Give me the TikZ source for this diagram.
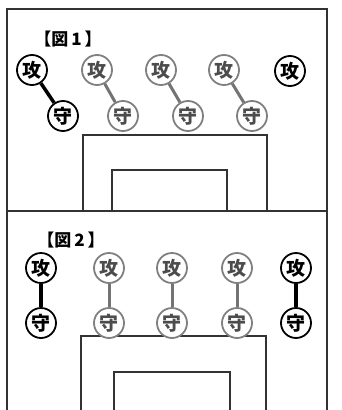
\documentclass[tikz,border=0pt]{standalone}
\usepackage{fontspec}
\newfontfamily\jp{Noto Sans CJK JP}
\begin{document}
\begin{tikzpicture}[x=1pt,y=-1pt,
  frame/.style={line width=1.8pt,draw=black!80},
  piece/.style={circle,draw=black,line width=1.8pt,minimum size=30pt,inner sep=0pt,font=\jp\bfseries\fontsize{19}{19}\selectfont,fill=white},
  gpiece/.style={piece,draw=black!50,text=black!70},
  link/.style={line width=3.5pt,black},
  glink/.style={line width=3pt,black!55},
  lbl/.style={font=\jp\bfseries\fontsize{17}{17}\selectfont,inner sep=0pt}]
\useasboundingbox (0,0) rectangle (341,410);
% frames
\draw[frame] (7,410) -- (7,9) -- (327,9) -- (327,410);
\draw[frame] (7,211) -- (327,211);
\draw[frame] (83,211) -- (83,135) -- (267,135) -- (267,211);
\draw[frame] (112,211) -- (112,170) -- (227,170) -- (227,211);
\draw[frame] (81,410) -- (81,336) -- (266,336) -- (266,410);
\draw[frame] (114,410) -- (114,372) -- (230,372) -- (230,410);
% labels
\node[lbl] (l1) at (68,39) {【図\,1\,】};
\node[lbl] (l2) at (71,240) {【図\,2\,】};
% figure 1
\node[piece] (a1) at (32,70) {攻};
\node[piece] (b1) at (63,116) {守};
\node[gpiece] (a2) at (97,70) {攻};
\node[gpiece] (b2) at (123,116) {守};
\node[gpiece] (a3) at (161,70) {攻};
\node[gpiece] (b3) at (188,116) {守};
\node[gpiece] (a4) at (224,70) {攻};
\node[gpiece] (b4) at (252,116) {守};
\node[piece] (a5) at (290,71) {攻};
\draw[link] (a1) -- (b1);
\draw[glink] (a2) -- (b2);
\draw[glink] (a3) -- (b3);
\draw[glink] (a4) -- (b4);
% figure 2
\node[piece] (c1) at (41,268) {攻};
\node[piece] (d1) at (41,323) {守};
\node[gpiece] (c2) at (109,268) {攻};
\node[gpiece] (d2) at (109,323) {守};
\node[gpiece] (c3) at (172,268) {攻};
\node[gpiece] (d3) at (172,323) {守};
\node[gpiece] (c4) at (237,268) {攻};
\node[gpiece] (d4) at (237,323) {守};
\node[piece] (c5) at (296,268) {攻};
\node[piece] (d5) at (296,323) {守};
\draw[link] (c1) -- (d1);
\draw[glink] (c2) -- (d2);
\draw[glink] (c3) -- (d3);
\draw[glink] (c4) -- (d4);
\draw[link] (c5) -- (d5);
\end{tikzpicture}
\end{document}
